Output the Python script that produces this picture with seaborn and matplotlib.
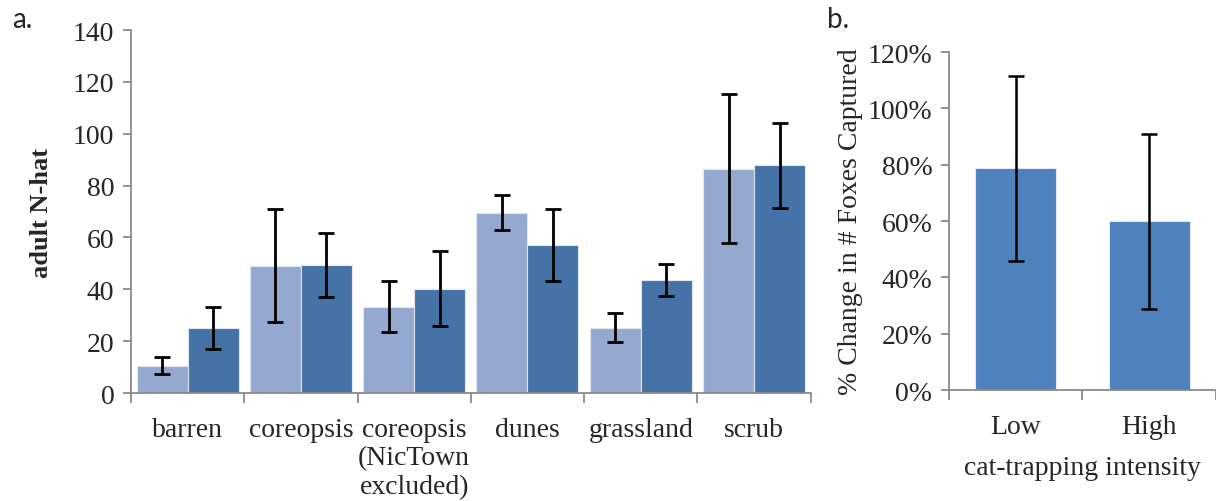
import matplotlib
matplotlib.use("Agg")
import matplotlib.pyplot as plt
import seaborn as sns
import pandas as pd
import numpy as np
from matplotlib.ticker import FuncFormatter, FixedLocator

# ---- data ----
habitats = ["barren", "coreopsis", "coreopsis\n(NicTown\nexcluded)", "dunes", "grassland", "scrub"]
series_names = ["light", "dark"]
light_vals = [10.5, 49.0, 33.3, 69.6, 25.1, 86.4]
light_lo = [7.3, 27.5, 23.4, 63.0, 19.5, 57.8]
light_hi = [14.0, 70.8, 43.3, 76.5, 31.0, 115.3]
dark_vals = [25.1, 49.4, 40.1, 56.9, 43.4, 87.8]
dark_lo = [17.1, 37.2, 25.8, 43.1, 37.5, 71.4]
dark_hi = [33.2, 61.8, 54.8, 70.8, 49.7, 104.3]

intensity = ["Low", "High"]
fox_change = [0.787, 0.599]
fox_lo = [0.459, 0.289]
fox_hi = [1.115, 0.909]

# ---- style ----
sns.set_style("white")
plt.rcParams["font.family"] = ["Liberation Serif", "DejaVu Serif"]
plt.rcParams["axes.edgecolor"] = "#8a8a8a"
plt.rcParams["axes.linewidth"] = 1.3

light_c = "#95A9D0"
dark_c = "#4572A7"
fox_c = "#4F81BD"
axis_c = "#8a8a8a"
fs = 20

fig = plt.figure(figsize=(12.16, 5.02), dpi=100)
ax1 = fig.add_axes([0.1077, 0.2151, 0.559, 0.7231])
ax2 = fig.add_axes([0.7804, 0.2211, 0.2196, 0.6733])

# ---- panel a ----
df = pd.DataFrame({
    "habitat": habitats * 2,
    "series": [series_names[0]] * len(habitats) + [series_names[1]] * len(habitats),
    "value": light_vals + dark_vals,
})
sns.barplot(data=df, x="habitat", y="value", hue="series", order=habitats,
            hue_order=series_names, palette=[light_c, dark_c], width=0.9,
            errorbar=None, legend=False, edgecolor="#dfe6f2", linewidth=0.8,
            saturation=1, ax=ax1)

patches = sorted(ax1.patches, key=lambda p: p.get_x())
xs = [p.get_x() + p.get_width() / 2 for p in patches]
vals, los, his = [], [], []
for i in range(len(habitats)):
    vals += [light_vals[i], dark_vals[i]]
    los += [light_lo[i], dark_lo[i]]
    his += [light_hi[i], dark_hi[i]]
vals, los, his = map(np.array, (vals, los, his))
ax1.errorbar(xs, vals, yerr=[vals - los, his - vals], fmt="none",
             ecolor="black", elinewidth=2, capsize=6, capthick=2, zorder=5)

ax1.set_ylim(0, 140)
ax1.set_xlim(-0.5, len(habitats) - 0.5)
ax1.set_yticks(np.arange(0, 141, 20))
ax1.set_ylabel("adult N-hat", fontsize=fs - 1, fontweight="bold", labelpad=14)
ax1.set_xlabel("")
ax1.tick_params(axis="y", labelsize=fs, length=6, width=1.3, color=axis_c,
                direction="out", left=True, pad=6)
ax1.tick_params(axis="x", which="major", labelsize=fs, length=0, pad=17)
ax1.xaxis.set_minor_locator(FixedLocator(np.arange(-0.5, len(habitats), 1.0)))
ax1.tick_params(axis="x", which="minor", length=7, width=1.3, color=axis_c,
                direction="out", bottom=True)
for lbl in ax1.get_xticklabels():
    lbl.set_verticalalignment("top")
    lbl.set_linespacing(1.2)
sns.despine(ax=ax1)

# ---- panel b ----
sns.barplot(x=intensity, y=fox_change, color=fox_c, width=0.61, errorbar=None,
            saturation=1, edgecolor="#e0e8f3", linewidth=0.8, ax=ax2)
p2 = sorted(ax2.patches, key=lambda p: p.get_x())
xs2 = [p.get_x() + p.get_width() / 2 for p in p2]
fv, fl, fh = map(np.array, (fox_change, fox_lo, fox_hi))
ax2.errorbar(xs2, fv, yerr=[fv - fl, fh - fv], fmt="none", ecolor="black",
             elinewidth=1.8, capsize=6, capthick=1.8, zorder=5)
ax2.set_ylim(0, 1.2)
ax2.set_xlim(-0.5, 1.5)
ax2.set_yticks(np.arange(0, 1.21, 0.2))
ax2.yaxis.set_major_formatter(FuncFormatter(lambda v, _: f"{v*100:.0f}%"))
ax2.set_ylabel("% Change in # Foxes Captured", fontsize=fs, labelpad=3)
ax2.set_xlabel("cat-trapping intensity", fontsize=fs, labelpad=12)
ax2.tick_params(axis="y", labelsize=fs, length=6, width=1.3, color=axis_c,
                direction="out", left=True, pad=6)
ax2.tick_params(axis="x", which="major", labelsize=fs, length=0, pad=17)
ax2.xaxis.set_minor_locator(FixedLocator([-0.5, 0.5, 1.5]))
ax2.tick_params(axis="x", which="minor", length=7, width=1.3, color=axis_c,
                direction="out", bottom=True)
sns.despine(ax=ax2)

# panel letters
fig.text(0.010, 0.944, "a.", fontsize=20, family=["Lato", "DejaVu Sans"])
fig.text(0.680, 0.944, "b.", fontsize=20, family=["Lato", "DejaVu Sans"])

fig.savefig("out.png", dpi=100)
